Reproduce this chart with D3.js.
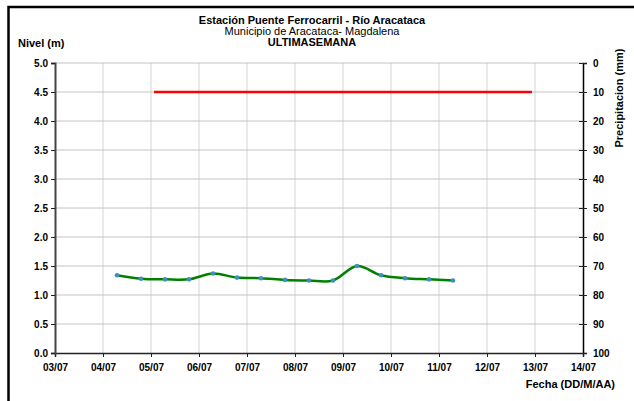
<!DOCTYPE html>
<html>
<head>
<meta charset="utf-8">
<script src="https://cdn.jsdelivr.net/npm/d3@7"></script>
<style>
  body { margin: 0; background: #fff; }
  svg text { font-family: "Liberation Sans", Arial, sans-serif; fill: #000; }
</style>
</head>
<body>
<svg id="chart"></svg>
<script>
var w = 634;
var h = 401;

// nivel (m), one reading every 12 hours
var fechas = ['04/07 07:00', '04/07 19:00', '05/07 07:00', '05/07 19:00', '06/07 07:00',
  '06/07 19:00', '07/07 07:00', '07/07 19:00', '08/07 07:00', '08/07 19:00',
  '09/07 07:00', '09/07 19:00', '10/07 07:00', '10/07 19:00', '11/07 07:00'];
var nivel = [1.34, 1.28, 1.27, 1.27, 1.37, 1.30, 1.29, 1.26, 1.25, 1.25, 1.50, 1.34, 1.29, 1.27, 1.25];

// red reference line
var alertaFechas = ['05/07 01:30', '12/07 22:30'];
var alertaNivel = [4.5, 4.5];

var xTicks = ['03/07', '04/07', '05/07', '06/07', '07/07', '08/07', '09/07', '10/07', '11/07', '12/07', '13/07', '14/07'];
var nivelTicks = [0, 0.5, 1, 1.5, 2, 2.5, 3, 3.5, 4, 4.5, 5];
var precTicks = [0, 10, 20, 30, 40, 50, 60, 70, 80, 90, 100];

var parse = d3.timeParse('%d/%m %H:%M');
var parseDay = d3.timeParse('%d/%m');

var pLeft = 55, pRight = 583, pTop = 63, pBottom = 353;

var x = d3.scaleTime()
  .domain([parseDay(xTicks[0]), parseDay(xTicks[xTicks.length - 1])])
  .range([pLeft, pRight]);
var y = d3.scaleLinear().domain([0, 5]).range([pBottom, pTop]);
var y2 = d3.scaleLinear().domain([0, 100]).range([pTop, pBottom]);

var svg = d3.select('#chart').attr('width', w).attr('height', h);

// frame
svg.append('rect')
  .attr('x', 8.5).attr('y', 7)
  .attr('width', w + 20).attr('height', h + 20)
  .style('fill', 'none').style('stroke', '#000').style('stroke-width', 2.5);

// grid
svg.append('g').selectAll('line')
  .data(xTicks.slice(1, -1))
  .enter().append('line')
  .attr('x1', function (d) { return x(parseDay(d)); })
  .attr('x2', function (d) { return x(parseDay(d)); })
  .attr('y1', pTop).attr('y2', pBottom)
  .style('stroke', '#d4d4d4').style('stroke-width', 1);

svg.append('g').selectAll('line')
  .data(nivelTicks.slice(1))
  .enter().append('line')
  .attr('x1', pLeft).attr('x2', pRight)
  .attr('y1', function (d) { return y(d); })
  .attr('y2', function (d) { return y(d); })
  .style('stroke', '#c4c4c4').style('stroke-width', 1);

// axes
var xAxis = svg.append('g')
  .attr('transform', 'translate(0,' + pBottom + ')')
  .call(d3.axisBottom(x)
    .tickValues(xTicks.map(function (d) { return parseDay(d); }))
    .tickFormat(d3.timeFormat('%d/%m'))
    .tickSize(4).tickPadding(3));
xAxis.select('.domain').style('stroke', '#222').style('stroke-width', 1.5);

var yAxis = svg.append('g')
  .attr('transform', 'translate(' + pLeft + ',0)')
  .call(d3.axisLeft(y).tickValues(nivelTicks).tickFormat(d3.format('.1f')).tickSize(4).tickPadding(3));
yAxis.select('.domain').style('stroke', '#444').style('stroke-width', 2);

var y2Axis = svg.append('g')
  .attr('transform', 'translate(' + pRight + ',0)')
  .call(d3.axisRight(y2).tickValues(precTicks).tickSize(4).tickPadding(6));
y2Axis.selectAll('.tick line').attr('x1', -4);
y2Axis.select('.domain').style('stroke', '#000').style('stroke-width', 1.5);

svg.selectAll('.tick text')
  .style('font-size', '10px').style('font-weight', 'bold')
  .style('font-family', '"Liberation Sans", Arial, sans-serif');
svg.selectAll('.tick line').style('stroke', '#222');
xAxis.selectAll('.tick text').attr('dy', '1.1em');

// series
svg.append('path')
  .datum(alertaFechas)
  .attr('d', d3.line()
    .x(function (d) { return x(parse(d)); })
    .y(function (d, i) { return y(alertaNivel[i]); }))
  .style('fill', 'none').style('stroke', '#ff0000').style('stroke-width', 2.5);

svg.append('path')
  .datum(fechas)
  .attr('d', d3.line()
    .curve(d3.curveCatmullRom.alpha(0.5))
    .x(function (d) { return x(parse(d)); })
    .y(function (d, i) { return y(nivel[i]); }))
  .style('fill', 'none').style('stroke', '#008000').style('stroke-width', 2.5);

svg.append('g').selectAll('circle')
  .data(fechas)
  .enter().append('circle')
  .attr('cx', function (d) { return x(parse(d)); })
  .attr('cy', function (d, i) { return y(nivel[i]); })
  .attr('r', 2.3)
  .style('fill', '#3f8fc0');

// texts
svg.append('text').attr('x', 312).attr('y', 24).attr('text-anchor', 'middle')
  .style('font-size', '11px').style('font-weight', 'bold')
  .text('Estación Puente Ferrocarril - Río Aracataca');
svg.append('text').attr('x', 312).attr('y', 35).attr('text-anchor', 'middle')
  .style('font-size', '11px')
  .text('Municipio de Aracataca- Magdalena');
svg.append('text').attr('x', 312).attr('y', 46).attr('text-anchor', 'middle')
  .style('font-size', '11px').style('font-weight', 'bold')
  .text('ULTIMASEMANA');
svg.append('text').attr('x', 18).attr('y', 47)
  .style('font-size', '11px').style('font-weight', 'bold')
  .text('Nivel (m)');
svg.append('text')
  .attr('transform', 'translate(623,98) rotate(-90)')
  .attr('text-anchor', 'middle')
  .style('font-size', '11px').style('font-weight', 'bold')
  .text('Precipitacion (mm)');
svg.append('text').attr('x', 615).attr('y', 388).attr('text-anchor', 'end')
  .style('font-size', '11px').style('font-weight', 'bold')
  .text('Fecha (DD/M/AA)');
</script>
</body>
</html>
